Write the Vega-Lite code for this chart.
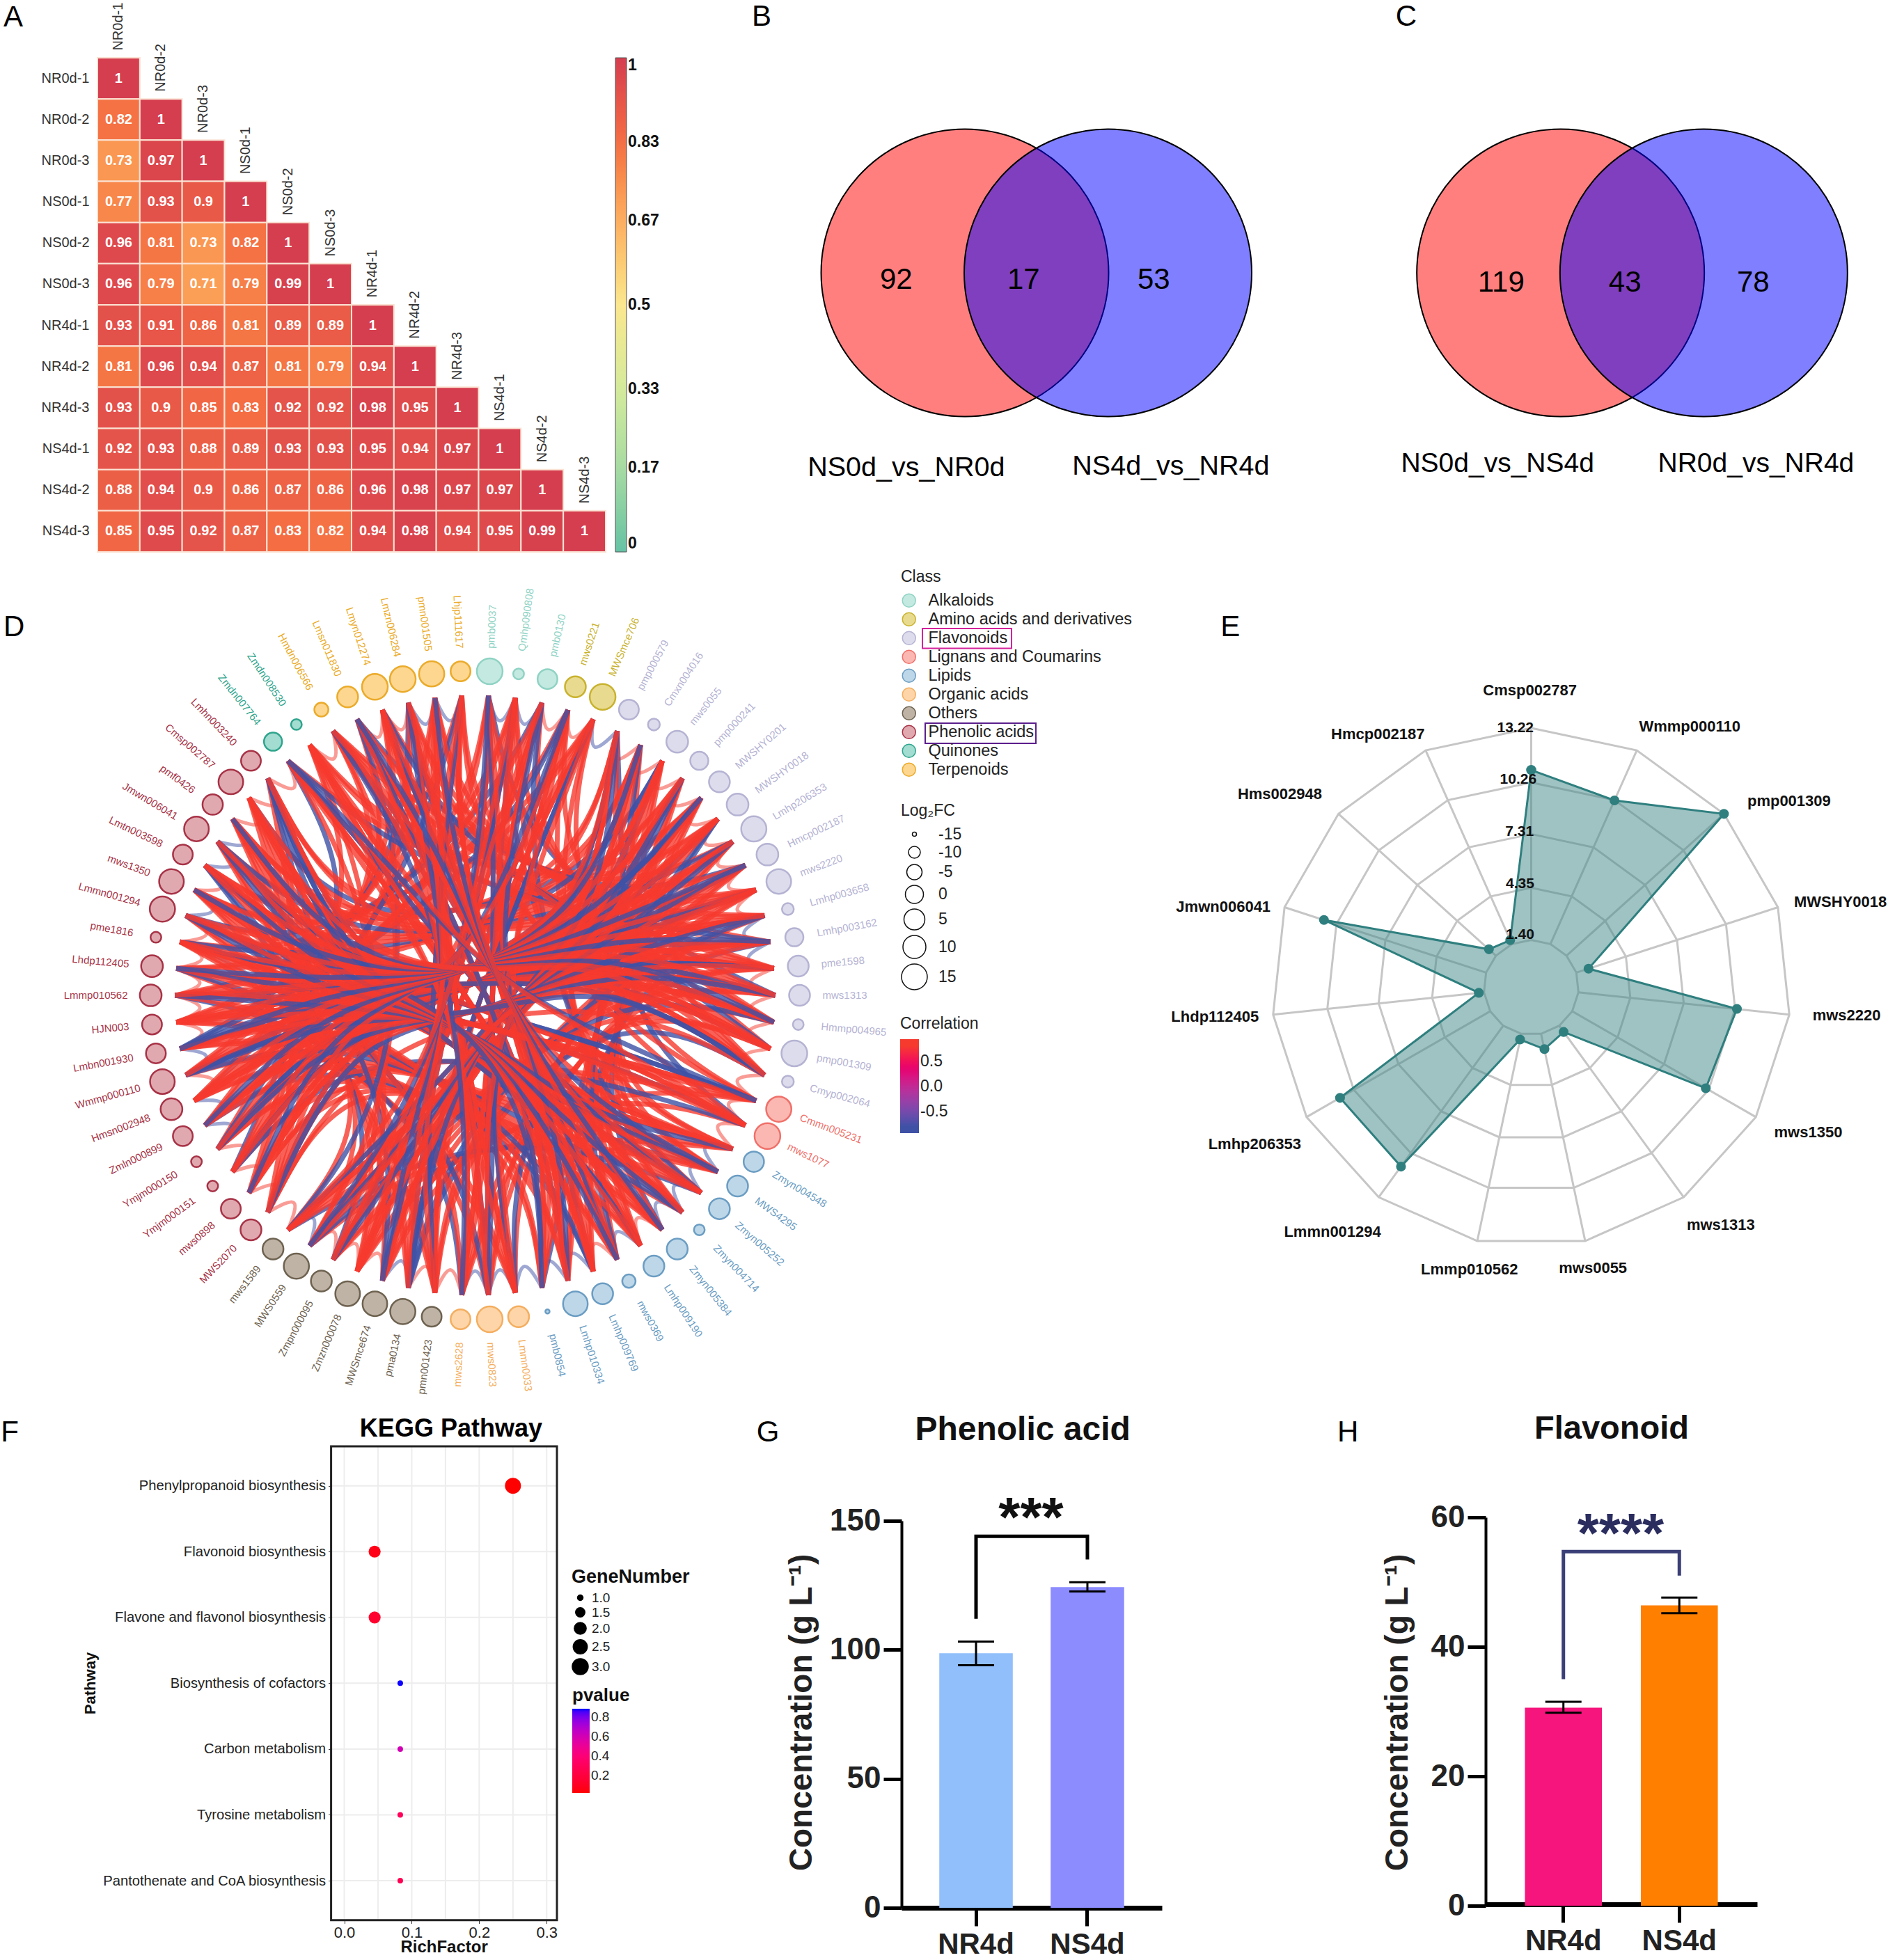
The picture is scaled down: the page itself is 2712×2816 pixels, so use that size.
{"$schema":"https://vega.github.io/schema/vega-lite/v6.json","padding":0,"background":"white","width":2712,"height":2816,
"config":{"font":"Liberation Sans","view":{"stroke":null},"axis":{"labelFlush":false}},
"resolve":{"scale":{"x":"independent","y":"independent","fill":"independent","stroke":"independent","size":"independent"},"axis":{"x":"independent","y":"independent"},"legend":{"fill":"independent","stroke":"independent","size":"independent"}},
"datasets":{
"nodes":[
{"k":0,"n":"pmb0037","c":"Alkaloids","fc":15,"x":0.045,"y":0.999,"a":-87.4},{"k":1,"n":"Qmhp090808","c":"Alkaloids","fc":-11,"x":0.134,"y":0.991,"a":-82.3},{"k":2,"n":"pmb0130","c":"Alkaloids","fc":3,"x":0.223,"y":0.975,"a":-77.1},{"k":3,"n":"mws0221","c":"Amino acids and derivatives","fc":5,"x":0.309,"y":0.951,"a":-72},{"k":4,"n":"MWSmce706","c":"Amino acids and derivatives","fc":15,"x":0.393,"y":0.92,"a":-66.9},
{"k":5,"n":"pmp000579","c":"Flavonoids","fc":3,"x":0.474,"y":0.881,"a":-61.7},{"k":6,"n":"Cmxn004016","c":"Flavonoids","fc":-10,"x":0.551,"y":0.835,"a":-56.6},{"k":7,"n":"mws0055","c":"Flavonoids","fc":7,"x":0.623,"y":0.782,"a":-51.4},{"k":8,"n":"pmp000241","c":"Flavonoids","fc":0,"x":0.691,"y":0.723,"a":-46.3},{"k":9,"n":"MWSHY0201","c":"Flavonoids","fc":5,"x":0.753,"y":0.658,"a":-41.1},{"k":10,"n":"MWSHY0018","c":"Flavonoids","fc":7,"x":0.809,"y":0.588,"a":-36},{"k":11,"n":"Lmhp206353","c":"Flavonoids","fc":14,"x":0.859,"y":0.513,"a":-30.9},{"k":12,"n":"Hmcp002187","c":"Flavonoids","fc":7,"x":0.901,"y":0.434,"a":-25.7},{"k":13,"n":"mws2220","c":"Flavonoids","fc":13,"x":0.936,"y":0.351,"a":-20.6},{"k":14,"n":"Lmhp003658","c":"Flavonoids","fc":-10,"x":0.964,"y":0.266,"a":-15.4},{"k":15,"n":"Lmhp003162","c":"Flavonoids","fc":0,"x":0.984,"y":0.179,"a":-10.3},{"k":16,"n":"pme1598","c":"Flavonoids","fc":5,"x":0.996,"y":0.09,"a":-5.1},{"k":17,"n":"mws1313","c":"Flavonoids","fc":5,"x":1,"y":0,"a":0},{"k":18,"n":"Hmmp004965","c":"Flavonoids","fc":-11,"x":0.996,"y":-0.09,"a":5.1},{"k":19,"n":"pmp001309","c":"Flavonoids","fc":15,"x":0.984,"y":-0.179,"a":10.3},{"k":20,"n":"Cmyp002064","c":"Flavonoids","fc":-10,"x":0.964,"y":-0.266,"a":15.4},
{"k":21,"n":"Cmmn005231","c":"Lignans and Coumarins","fc":14,"x":0.936,"y":-0.351,"a":20.6},{"k":22,"n":"mws1077","c":"Lignans and Coumarins","fc":15,"x":0.901,"y":-0.434,"a":25.7},
{"k":23,"n":"Zmyn004548","c":"Lipids","fc":4,"x":0.859,"y":-0.513,"a":30.9},{"k":24,"n":"MWS4295","c":"Lipids","fc":5,"x":0.809,"y":-0.588,"a":36},{"k":25,"n":"Zmyn005252","c":"Lipids","fc":5,"x":0.753,"y":-0.658,"a":41.1},{"k":26,"n":"Zmyn004714","c":"Lipids","fc":-11,"x":0.691,"y":-0.723,"a":46.3},{"k":27,"n":"Zmyn005384","c":"Lipids","fc":5,"x":0.623,"y":-0.782,"a":51.4},{"k":28,"n":"Lmhp009190","c":"Lipids","fc":5,"x":0.551,"y":-0.835,"a":56.6},{"k":29,"n":"mws0369","c":"Lipids","fc":-8,"x":0.474,"y":-0.881,"a":61.7},{"k":30,"n":"Lmhp009769","c":"Lipids","fc":5,"x":0.393,"y":-0.92,"a":66.9},{"k":31,"n":"Lmhp010334","c":"Lipids","fc":13,"x":0.309,"y":-0.951,"a":72},{"k":32,"n":"pmb0854","c":"Lipids","fc":-15,"x":0.223,"y":-0.975,"a":77.1},
{"k":33,"n":"Lmmn0033","c":"Organic acids","fc":5,"x":0.134,"y":-0.991,"a":82.3},{"k":34,"n":"mws0823","c":"Organic acids","fc":15,"x":0.045,"y":-0.999,"a":87.4},{"k":35,"n":"mws2628","c":"Organic acids","fc":3,"x":-0.045,"y":-0.999,"a":-87.4},
{"k":36,"n":"pmn001423","c":"Others","fc":3,"x":-0.134,"y":-0.991,"a":-82.3},{"k":37,"n":"pma0134","c":"Others","fc":14,"x":-0.223,"y":-0.975,"a":-77.1},{"k":38,"n":"MWSmce674","c":"Others","fc":13,"x":-0.309,"y":-0.951,"a":-72},{"k":39,"n":"Zmzn000078","c":"Others","fc":13,"x":-0.393,"y":-0.92,"a":-66.9},{"k":40,"n":"Zmpn000095","c":"Others","fc":5,"x":-0.474,"y":-0.881,"a":-61.7},{"k":41,"n":"MWS0559","c":"Others","fc":14,"x":-0.551,"y":-0.835,"a":-56.6},{"k":42,"n":"mws1589","c":"Others","fc":5,"x":-0.623,"y":-0.782,"a":-51.4},
{"k":43,"n":"MWS2070","c":"Phenolic acids","fc":5,"x":-0.691,"y":-0.723,"a":-46.3},{"k":44,"n":"mws0898","c":"Phenolic acids","fc":3,"x":-0.753,"y":-0.658,"a":-41.1},{"k":45,"n":"Ymjm000151","c":"Phenolic acids","fc":-11,"x":-0.809,"y":-0.588,"a":-36},{"k":46,"n":"Ymjm000150","c":"Phenolic acids","fc":-11,"x":-0.859,"y":-0.513,"a":-30.9},{"k":47,"n":"Zmln000899","c":"Phenolic acids","fc":3,"x":-0.901,"y":-0.434,"a":-25.7},{"k":48,"n":"Hmsn002948","c":"Phenolic acids","fc":7,"x":-0.936,"y":-0.351,"a":-20.6},{"k":49,"n":"Wmmp000110","c":"Phenolic acids","fc":13,"x":-0.964,"y":-0.266,"a":-15.4},{"k":50,"n":"Lmbn001930","c":"Phenolic acids","fc":3,"x":-0.984,"y":-0.179,"a":-10.3},{"k":51,"n":"HJN003","c":"Phenolic acids","fc":3,"x":-0.996,"y":-0.09,"a":-5.1},{"k":52,"n":"Lmmp010562","c":"Phenolic acids","fc":7,"x":-1,"y":0,"a":0},{"k":53,"n":"Lhdp112405","c":"Phenolic acids","fc":7,"x":-0.996,"y":0.09,"a":5.1},{"k":54,"n":"pme1816","c":"Phenolic acids","fc":-11,"x":-0.984,"y":0.179,"a":10.3},{"k":55,"n":"Lmmn001294","c":"Phenolic acids","fc":14,"x":-0.964,"y":0.266,"a":15.4},{"k":56,"n":"mws1350","c":"Phenolic acids","fc":13,"x":-0.936,"y":0.351,"a":20.6},{"k":57,"n":"Lmtn003598","c":"Phenolic acids","fc":3,"x":-0.901,"y":0.434,"a":25.7},{"k":58,"n":"Jmwn006041","c":"Phenolic acids","fc":13,"x":-0.859,"y":0.513,"a":30.9},{"k":59,"n":"pmf0426","c":"Phenolic acids","fc":4,"x":-0.809,"y":0.588,"a":36},{"k":60,"n":"Cmsp002787","c":"Phenolic acids","fc":13,"x":-0.753,"y":0.658,"a":41.1},{"k":61,"n":"Lmhn003240","c":"Phenolic acids","fc":3,"x":-0.691,"y":0.723,"a":46.3},
{"k":62,"n":"Zmdn007764","c":"Quinones","fc":0,"x":-0.623,"y":0.782,"a":51.4},{"k":63,"n":"Zmdn008530","c":"Quinones","fc":-11,"x":-0.551,"y":0.835,"a":56.6},
{"k":64,"n":"Hmdn006566","c":"Terpenoids","fc":-7,"x":-0.474,"y":0.881,"a":61.7},{"k":65,"n":"Lmsn011830","c":"Terpenoids","fc":5,"x":-0.393,"y":0.92,"a":66.9},{"k":66,"n":"Lmyn012274","c":"Terpenoids","fc":15,"x":-0.309,"y":0.951,"a":72},{"k":67,"n":"Lmzn006284","c":"Terpenoids","fc":15,"x":-0.223,"y":0.975,"a":77.1},{"k":68,"n":"pmn001505","c":"Terpenoids","fc":14,"x":-0.134,"y":0.991,"a":82.3},{"k":69,"n":"Lhjp111617","c":"Terpenoids","fc":3,"x":-0.045,"y":0.999,"a":87.4}],
"anchors":[
{"k":0,"x":0.041,"y":0.924},{"k":1,"x":0.124,"y":0.917},{"k":2,"x":0.206,"y":0.902},{"k":3,"x":0.286,"y":0.88},{"k":4,"x":0.364,"y":0.851},{"k":5,"x":0.438,"y":0.815},{"k":6,"x":0.51,"y":0.772},{"k":7,"x":0.577,"y":0.723},{"k":8,"x":0.639,"y":0.669},{"k":9,"x":0.697,"y":0.609},{"k":10,"x":0.748,"y":0.544},{"k":11,"x":0.794,"y":0.474},{"k":12,"x":0.833,"y":0.401},{"k":13,"x":0.866,"y":0.325},{"k":14,"x":0.892,"y":0.246},{"k":15,"x":0.91,"y":0.165},{"k":16,"x":0.921,"y":0.083},{"k":17,"x":0.925,"y":0},
{"k":18,"x":0.921,"y":-0.083},{"k":19,"x":0.91,"y":-0.165},{"k":20,"x":0.892,"y":-0.246},{"k":21,"x":0.866,"y":-0.325},{"k":22,"x":0.833,"y":-0.401},{"k":23,"x":0.794,"y":-0.474},{"k":24,"x":0.748,"y":-0.544},{"k":25,"x":0.697,"y":-0.609},{"k":26,"x":0.639,"y":-0.669},{"k":27,"x":0.577,"y":-0.723},{"k":28,"x":0.51,"y":-0.772},{"k":29,"x":0.438,"y":-0.815},{"k":30,"x":0.364,"y":-0.851},{"k":31,"x":0.286,"y":-0.88},{"k":32,"x":0.206,"y":-0.902},{"k":33,"x":0.124,"y":-0.917},{"k":34,"x":0.041,"y":-0.924},
{"k":35,"x":-0.041,"y":-0.924},{"k":36,"x":-0.124,"y":-0.917},{"k":37,"x":-0.206,"y":-0.902},{"k":38,"x":-0.286,"y":-0.88},{"k":39,"x":-0.364,"y":-0.851},{"k":40,"x":-0.438,"y":-0.815},{"k":41,"x":-0.51,"y":-0.772},{"k":42,"x":-0.577,"y":-0.723},{"k":43,"x":-0.639,"y":-0.669},{"k":44,"x":-0.697,"y":-0.609},{"k":45,"x":-0.748,"y":-0.544},{"k":46,"x":-0.794,"y":-0.474},{"k":47,"x":-0.833,"y":-0.401},{"k":48,"x":-0.866,"y":-0.325},{"k":49,"x":-0.892,"y":-0.246},{"k":50,"x":-0.91,"y":-0.165},{"k":51,"x":-0.921,"y":-0.083},{"k":52,"x":-0.925,"y":0},
{"k":53,"x":-0.921,"y":0.083},{"k":54,"x":-0.91,"y":0.165},{"k":55,"x":-0.892,"y":0.246},{"k":56,"x":-0.866,"y":0.325},{"k":57,"x":-0.833,"y":0.401},{"k":58,"x":-0.794,"y":0.474},{"k":59,"x":-0.748,"y":0.544},{"k":60,"x":-0.697,"y":0.609},{"k":61,"x":-0.639,"y":0.669},{"k":62,"x":-0.577,"y":0.723},{"k":63,"x":-0.51,"y":0.772},{"k":64,"x":-0.438,"y":0.815},{"k":65,"x":-0.364,"y":0.851},{"k":66,"x":-0.286,"y":0.88},{"k":67,"x":-0.206,"y":0.902},{"k":68,"x":-0.124,"y":0.917},{"k":69,"x":-0.041,"y":0.924},
{"k":100,"x":0.06,"y":0.446},{"k":101,"x":0.158,"y":0.421},{"k":102,"x":0.414,"y":0.177},{"k":103,"x":0.414,"y":-0.177},{"k":104,"x":0.265,"y":-0.364},{"k":105,"x":0.02,"y":-0.45},{"k":106,"x":-0.177,"y":-0.414},{"k":107,"x":-0.45,"y":0},{"k":108,"x":-0.265,"y":0.364},{"k":109,"x":-0.12,"y":0.434},{"k":110,"x":0,"y":0},
{"k":201,"x":0.072,"y":0.797},{"k":202,"x":0.143,"y":0.787},{"k":203,"x":0.213,"y":0.771},{"k":204,"x":0.281,"y":0.749},{"k":205,"x":0.347,"y":0.721},{"k":206,"x":0.41,"y":0.687},{"k":207,"x":0.47,"y":0.647},{"k":208,"x":0.526,"y":0.602},{"k":209,"x":0.578,"y":0.553},{"k":210,"x":0.625,"y":0.499},{"k":211,"x":0.668,"y":0.441},{"k":212,"x":0.705,"y":0.379},{"k":213,"x":0.736,"y":0.314},{"k":214,"x":0.761,"y":0.247},{"k":215,"x":0.78,"y":0.178},{"k":216,"x":0.793,"y":0.107},{"k":217,"x":0.799,"y":0.036},
{"k":218,"x":0.799,"y":-0.036},{"k":219,"x":0.793,"y":-0.107},{"k":220,"x":0.78,"y":-0.178},{"k":221,"x":0.761,"y":-0.247},{"k":222,"x":0.736,"y":-0.314},{"k":223,"x":0.705,"y":-0.379},{"k":224,"x":0.668,"y":-0.441},{"k":225,"x":0.625,"y":-0.499},{"k":226,"x":0.578,"y":-0.553},{"k":227,"x":0.526,"y":-0.602},{"k":228,"x":0.47,"y":-0.647},{"k":229,"x":0.41,"y":-0.687},{"k":230,"x":0.347,"y":-0.721},{"k":231,"x":0.281,"y":-0.749},{"k":232,"x":0.213,"y":-0.771},{"k":233,"x":0.143,"y":-0.787},{"k":234,"x":0.072,"y":-0.797},{"k":235,"x":0,"y":-0.8},
{"k":236,"x":-0.072,"y":-0.797},{"k":237,"x":-0.143,"y":-0.787},{"k":238,"x":-0.213,"y":-0.771},{"k":239,"x":-0.281,"y":-0.749},{"k":240,"x":-0.347,"y":-0.721},{"k":241,"x":-0.41,"y":-0.687},{"k":242,"x":-0.47,"y":-0.647},{"k":243,"x":-0.526,"y":-0.602},{"k":244,"x":-0.578,"y":-0.553},{"k":245,"x":-0.625,"y":-0.499},{"k":246,"x":-0.668,"y":-0.441},{"k":247,"x":-0.705,"y":-0.379},{"k":248,"x":-0.736,"y":-0.314},{"k":249,"x":-0.761,"y":-0.247},{"k":250,"x":-0.78,"y":-0.178},{"k":251,"x":-0.793,"y":-0.107},{"k":252,"x":-0.799,"y":-0.036},
{"k":253,"x":-0.799,"y":0.036},{"k":254,"x":-0.793,"y":0.107},{"k":255,"x":-0.78,"y":0.178},{"k":256,"x":-0.761,"y":0.247},{"k":257,"x":-0.736,"y":0.314},{"k":258,"x":-0.705,"y":0.379},{"k":259,"x":-0.668,"y":0.441},{"k":260,"x":-0.625,"y":0.499},{"k":261,"x":-0.578,"y":0.553},{"k":262,"x":-0.526,"y":0.602},{"k":263,"x":-0.47,"y":0.647},{"k":264,"x":-0.41,"y":0.687},{"k":265,"x":-0.347,"y":0.721},{"k":266,"x":-0.281,"y":0.749},{"k":267,"x":-0.213,"y":0.771},{"k":268,"x":-0.143,"y":0.787},{"k":269,"x":-0.072,"y":0.797}],
"arcs":[
{"r":-0.8,"p":[0,201,1]},{"r":-0.8,"p":[1,202,2]},{"r":0.8,"p":[2,203,3]},{"r":0.8,"p":[3,204,4]},{"r":-0.8,"p":[4,205,5]},{"r":0.8,"p":[5,206,6]},{"r":0.8,"p":[6,207,7]},{"r":0.8,"p":[7,208,8]},{"r":0.8,"p":[8,209,9]},{"r":0.8,"p":[9,210,10]},{"r":0.8,"p":[10,211,11]},{"r":0.8,"p":[11,212,12]},{"r":0.8,"p":[12,213,13]},{"r":0.8,"p":[13,214,14]},{"r":-0.8,"p":[14,215,15]},{"r":-0.8,"p":[15,216,16]},{"r":0.8,"p":[16,217,17]},{"r":0.8,"p":[17,218,18]},{"r":0.8,"p":[18,219,19]},{"r":0.8,"p":[19,220,20]},{"r":0.8,"p":[20,221,21]},{"r":0.8,"p":[21,222,22]},{"r":0.8,"p":[22,223,23]},{"r":-0.8,"p":[23,224,24]},{"r":-0.8,"p":[24,225,25]},{"r":-0.8,"p":[25,226,26]},{"r":-0.8,"p":[26,227,27]},{"r":0.8,"p":[27,228,28]},{"r":-0.8,"p":[28,229,29]},{"r":0.8,"p":[29,230,30]},{"r":-0.8,"p":[30,231,31]},{"r":-0.8,"p":[31,232,32]},{"r":-0.8,"p":[32,233,33]},{"r":-0.8,"p":[33,234,34]},{"r":-0.8,"p":[34,235,35]},{"r":0.8,"p":[35,236,36]},{"r":0.8,"p":[36,237,37]},{"r":-0.8,"p":[37,238,38]},{"r":0.8,"p":[38,239,39]},{"r":0.8,"p":[39,240,40]},{"r":0.8,"p":[40,241,41]},{"r":-0.8,"p":[41,242,42]},{"r":0.8,"p":[42,243,43]},{"r":0.8,"p":[43,244,44]},{"r":0.8,"p":[44,245,45]},{"r":0.8,"p":[45,246,46]},{"r":-0.8,"p":[46,247,47]},{"r":-0.8,"p":[47,248,48]},{"r":0.8,"p":[48,249,49]},{"r":-0.8,"p":[49,250,50]},{"r":0.8,"p":[50,251,51]},{"r":0.8,"p":[51,252,52]},{"r":0.8,"p":[52,253,53]},{"r":0.8,"p":[53,254,54]},{"r":0.8,"p":[54,255,55]},{"r":-0.8,"p":[55,256,56]},{"r":0.8,"p":[56,257,57]},{"r":-0.8,"p":[57,258,58]},{"r":-0.8,"p":[58,259,59]},{"r":0.8,"p":[59,260,60]},{"r":0.8,"p":[60,261,61]},{"r":0.8,"p":[61,262,62]},{"r":0.8,"p":[63,264,64]},{"r":0.8,"p":[65,266,66]},{"r":0.8,"p":[66,267,67]},{"r":-0.8,"p":[67,268,68]},{"r":-0.8,"p":[68,269,69]},{"r":-0.8,"p":[5,102,9]},{"r":0.8,"p":[8,102,12]},{"r":0.8,"p":[11,102,15]},{"r":-0.8,"p":[14,102,18]},{"r":0.8,"p":[6,102,13]},{"r":0.8,"p":[44,107,50]},{"r":-0.8,"p":[48,107,54]},{"r":0.8,"p":[52,107,58]},{"r":0.8,"p":[55,107,61]},{"r":-0.8,"p":[24,104,29]},{"r":0.8,"p":[26,104,31]},{"r":-0.8,"p":[36,106,41]},{"r":0.8,"p":[64,109,68]}],
"links":[
{"r":-0.8,"p":[0,100,102,17]},{"r":0.8,"p":[1,100,102,18]},{"r":0.8,"p":[2,100,102,19]},{"r":0.8,"p":[3,101,102,20]},{"r":0.8,"p":[4,101,103,21]},{"r":-0.8,"p":[5,102,103,22]},{"r":0.8,"p":[6,102,104,23]},{"r":0.8,"p":[7,102,104,24]},{"r":0.8,"p":[8,102,104,25]},{"r":0.8,"p":[9,102,104,26]},{"r":-0.8,"p":[10,102,104,27]},{"r":0.8,"p":[11,102,104,28]},{"r":0.8,"p":[12,102,104,29]},{"r":0.8,"p":[13,102,104,30]},{"r":0.8,"p":[14,102,104,31]},{"r":-0.8,"p":[15,102,104,32]},{"r":0.8,"p":[16,102,105,33]},{"r":0.8,"p":[17,102,105,34]},{"r":0.8,"p":[18,102,105,35]},{"r":0.8,"p":[19,102,106,36]},{"r":-0.8,"p":[20,102,106,37]},{"r":0.8,"p":[21,103,106,38]},{"r":0.8,"p":[22,103,106,39]},{"r":0.8,"p":[23,104,106,40]},{"r":0.8,"p":[24,104,106,41]},{"r":-0.8,"p":[25,104,106,42]},{"r":0.8,"p":[26,104,107,43]},{"r":0.8,"p":[27,104,107,44]},{"r":0.8,"p":[28,104,107,45]},{"r":0.8,"p":[29,104,107,46]},{"r":-0.8,"p":[30,104,107,47]},{"r":0.8,"p":[31,104,107,48]},{"r":0.8,"p":[32,104,107,49]},{"r":0.8,"p":[33,105,107,50]},{"r":0.8,"p":[34,105,107,51]},{"r":-0.8,"p":[35,105,107,52]},{"r":0.8,"p":[36,106,107,53]},{"r":0.8,"p":[37,106,107,54]},{"r":0.8,"p":[38,106,107,55]},{"r":0.8,"p":[39,106,107,56]},{"r":-0.8,"p":[40,106,107,57]},{"r":0.8,"p":[41,106,107,58]},{"r":0.8,"p":[42,106,107,59]},{"r":0.8,"p":[43,107,60]},{"r":0.8,"p":[44,107,61]},{"r":-0.8,"p":[45,107,108,62]},{"r":0.8,"p":[46,107,108,63]},{"r":0.8,"p":[47,107,109,64]},{"r":0.8,"p":[48,107,109,65]},{"r":0.8,"p":[49,107,109,66]},{"r":-0.8,"p":[50,107,109,67]},{"r":0.8,"p":[51,107,109,68]},{"r":0.8,"p":[52,107,109,69]},{"r":0.8,"p":[53,107,100,0]},{"r":0.8,"p":[54,107,100,1]},{"r":-0.8,"p":[55,107,100,2]},{"r":0.8,"p":[56,107,101,3]},{"r":0.8,"p":[57,107,101,4]},{"r":0.8,"p":[58,107,102,5]},{"r":0.8,"p":[59,107,102,6]},{"r":-0.8,"p":[60,107,102,7]},{"r":0.8,"p":[61,107,102,8]},{"r":0.8,"p":[62,108,102,9]},{"r":0.8,"p":[63,108,102,10]},{"r":0.8,"p":[64,109,102,11]},{"r":-0.8,"p":[65,109,102,12]},{"r":0.8,"p":[66,109,102,13]},{"r":0.8,"p":[67,109,102,14]},{"r":0.8,"p":[68,109,102,15]},{"r":0.8,"p":[69,109,102,16]},
{"r":0.8,"p":[0,100,104,23]},{"r":0.8,"p":[1,100,104,24]},{"r":-0.8,"p":[2,100,104,25]},{"r":0.8,"p":[3,101,104,26]},{"r":0.8,"p":[4,101,104,27]},{"r":0.8,"p":[5,102,104,28]},{"r":-0.8,"p":[6,102,104,29]},{"r":0.8,"p":[7,102,104,30]},{"r":0.8,"p":[8,102,104,31]},{"r":0.8,"p":[9,102,104,32]},{"r":-0.8,"p":[10,102,105,33]},{"r":0.8,"p":[11,102,105,34]},{"r":0.8,"p":[12,102,105,35]},{"r":0.8,"p":[13,102,106,36]},{"r":-0.8,"p":[14,102,106,37]},{"r":0.8,"p":[15,102,106,38]},{"r":0.8,"p":[16,102,106,39]},{"r":0.8,"p":[17,102,106,40]},{"r":-0.8,"p":[18,102,106,41]},{"r":0.8,"p":[19,102,106,42]},{"r":0.8,"p":[20,102,107,43]},{"r":0.8,"p":[21,103,107,44]},{"r":-0.8,"p":[22,103,107,45]},{"r":0.8,"p":[23,104,107,46]},{"r":0.8,"p":[24,104,107,47]},{"r":0.8,"p":[25,104,107,48]},{"r":-0.8,"p":[26,104,107,49]},{"r":0.8,"p":[27,104,107,50]},{"r":0.8,"p":[28,104,107,51]},{"r":0.8,"p":[29,104,107,52]},{"r":-0.8,"p":[30,104,107,53]},{"r":0.8,"p":[31,104,107,54]},{"r":0.8,"p":[32,104,107,55]},{"r":0.8,"p":[33,105,107,56]},{"r":-0.8,"p":[34,105,107,57]},{"r":0.8,"p":[35,105,107,58]},{"r":0.8,"p":[36,106,107,59]},{"r":0.8,"p":[37,106,107,60]},{"r":-0.8,"p":[38,106,107,61]},{"r":0.8,"p":[39,106,108,62]},{"r":0.8,"p":[40,106,108,63]},{"r":0.8,"p":[41,106,109,64]},{"r":-0.8,"p":[42,106,109,65]},{"r":0.8,"p":[43,107,109,66]},{"r":0.8,"p":[44,107,109,67]},{"r":0.8,"p":[45,107,109,68]},{"r":-0.8,"p":[46,107,109,69]},{"r":0.8,"p":[47,107,100,0]},{"r":0.8,"p":[48,107,100,1]},{"r":0.8,"p":[49,107,100,2]},{"r":-0.8,"p":[50,107,101,3]},{"r":0.8,"p":[51,107,101,4]},{"r":0.8,"p":[52,107,102,5]},{"r":0.8,"p":[53,107,102,6]},{"r":-0.8,"p":[54,107,102,7]},{"r":0.8,"p":[55,107,102,8]},{"r":0.8,"p":[56,107,102,9]},{"r":0.8,"p":[57,107,102,10]},{"r":-0.8,"p":[58,107,102,11]},{"r":0.8,"p":[59,107,102,12]},{"r":0.8,"p":[60,107,102,13]},{"r":0.8,"p":[61,107,102,14]},{"r":-0.8,"p":[62,108,102,15]},{"r":0.8,"p":[63,108,102,16]},{"r":0.8,"p":[64,109,102,17]},{"r":0.8,"p":[65,109,102,18]},{"r":-0.8,"p":[66,109,102,19]},{"r":0.8,"p":[67,109,102,20]},{"r":0.8,"p":[68,109,103,21]},{"r":0.8,"p":[69,109,103,22]},
{"r":0.8,"p":[0,100,105,33]},{"r":-0.8,"p":[1,100,105,34]},{"r":0.8,"p":[2,100,105,35]},{"r":0.8,"p":[3,101,106,36]},{"r":-0.8,"p":[4,101,106,37]},{"r":0.8,"p":[5,102,106,38]},{"r":0.8,"p":[6,102,106,39]},{"r":-0.8,"p":[7,102,106,40]},{"r":0.8,"p":[8,102,106,41]},{"r":0.8,"p":[9,102,106,42]},{"r":-0.8,"p":[10,102,107,43]},{"r":0.8,"p":[11,102,107,44]},{"r":0.8,"p":[12,102,107,45]},{"r":-0.8,"p":[13,102,107,46]},{"r":0.8,"p":[14,102,107,47]},{"r":0.8,"p":[15,102,107,48]},{"r":-0.8,"p":[16,102,107,49]},{"r":0.8,"p":[17,102,107,50]},{"r":0.8,"p":[18,102,107,51]},{"r":-0.8,"p":[19,102,107,52]},{"r":0.8,"p":[20,102,107,53]},{"r":0.8,"p":[21,103,107,54]},{"r":-0.8,"p":[22,103,107,55]},{"r":0.8,"p":[23,104,107,56]},{"r":0.8,"p":[24,104,107,57]},{"r":-0.8,"p":[25,104,107,58]},{"r":0.8,"p":[26,104,107,59]},{"r":0.8,"p":[27,104,107,60]},{"r":-0.8,"p":[28,104,107,61]},{"r":0.8,"p":[29,104,108,62]},{"r":0.8,"p":[30,104,108,63]},{"r":-0.8,"p":[31,104,109,64]},{"r":0.8,"p":[32,104,109,65]},{"r":0.8,"p":[33,105,109,66]},{"r":-0.8,"p":[34,105,109,67]},{"r":0.8,"p":[35,105,109,68]},{"r":0.8,"p":[36,106,109,69]},{"r":-0.8,"p":[37,106,100,0]},{"r":0.8,"p":[38,106,100,1]},{"r":0.8,"p":[39,106,100,2]},{"r":-0.8,"p":[40,106,101,3]},{"r":0.8,"p":[41,106,101,4]},{"r":0.8,"p":[42,106,102,5]},{"r":-0.8,"p":[43,107,102,6]},{"r":0.8,"p":[44,107,102,7]},{"r":0.8,"p":[45,107,102,8]},{"r":-0.8,"p":[46,107,102,9]},{"r":0.8,"p":[47,107,102,10]},{"r":0.8,"p":[48,107,102,11]},{"r":-0.8,"p":[49,107,102,12]},{"r":0.8,"p":[50,107,102,13]},{"r":0.8,"p":[51,107,102,14]},{"r":-0.8,"p":[52,107,102,15]},{"r":0.8,"p":[53,107,102,16]},{"r":0.8,"p":[54,107,102,17]},{"r":-0.8,"p":[55,107,102,18]},{"r":0.8,"p":[56,107,102,19]},{"r":0.8,"p":[57,107,102,20]},{"r":-0.8,"p":[58,107,103,21]},{"r":0.8,"p":[59,107,103,22]},{"r":0.8,"p":[60,107,104,23]},{"r":-0.8,"p":[61,107,104,24]},{"r":0.8,"p":[62,108,104,25]},{"r":0.8,"p":[63,108,104,26]},{"r":-0.8,"p":[64,109,104,27]},{"r":0.8,"p":[65,109,104,28]},{"r":0.8,"p":[66,109,104,29]},{"r":-0.8,"p":[67,109,104,30]},{"r":0.8,"p":[68,109,104,31]},{"r":0.8,"p":[69,109,104,32]},
{"r":0.8,"p":[0,100,106,37]},{"r":-0.8,"p":[1,100,106,38]},{"r":0.8,"p":[2,100,106,39]},{"r":0.8,"p":[3,101,106,40]},{"r":0.8,"p":[4,101,106,41]},{"r":-0.8,"p":[5,102,106,42]},{"r":0.8,"p":[6,102,107,43]},{"r":0.8,"p":[7,102,107,44]},{"r":0.8,"p":[8,102,107,45]},{"r":-0.8,"p":[9,102,107,46]},{"r":0.8,"p":[10,102,107,47]},{"r":0.8,"p":[11,102,107,48]},{"r":0.8,"p":[12,102,107,49]},{"r":-0.8,"p":[13,102,107,50]},{"r":0.8,"p":[14,102,107,51]},{"r":0.8,"p":[15,102,107,52]},{"r":0.8,"p":[16,102,107,53]},{"r":-0.8,"p":[17,102,107,54]},{"r":0.8,"p":[18,102,107,55]},{"r":0.8,"p":[19,102,107,56]},{"r":0.8,"p":[20,102,107,57]},{"r":-0.8,"p":[21,103,107,58]},{"r":0.8,"p":[22,103,107,59]},{"r":0.8,"p":[23,104,107,60]},{"r":0.8,"p":[24,104,107,61]},{"r":-0.8,"p":[25,104,108,62]},{"r":0.8,"p":[26,104,108,63]},{"r":0.8,"p":[27,104,109,64]},{"r":0.8,"p":[28,104,109,65]},{"r":-0.8,"p":[29,104,109,66]},{"r":0.8,"p":[30,104,109,67]},{"r":0.8,"p":[31,104,109,68]},{"r":0.8,"p":[32,104,109,69]},{"r":-0.8,"p":[33,105,100,0]},{"r":0.8,"p":[34,105,100,1]},{"r":0.8,"p":[35,105,100,2]},{"r":0.8,"p":[36,106,101,3]},{"r":-0.8,"p":[37,106,101,4]},{"r":0.8,"p":[38,106,102,5]},{"r":0.8,"p":[39,106,102,6]},{"r":0.8,"p":[40,106,102,7]},{"r":-0.8,"p":[41,106,102,8]},{"r":0.8,"p":[42,106,102,9]},{"r":0.8,"p":[43,107,102,10]},{"r":0.8,"p":[44,107,102,11]},{"r":-0.8,"p":[45,107,102,12]},{"r":0.8,"p":[46,107,102,13]},{"r":0.8,"p":[47,107,102,14]},{"r":0.8,"p":[48,107,102,15]},{"r":-0.8,"p":[49,107,102,16]},{"r":0.8,"p":[50,107,102,17]},{"r":0.8,"p":[51,107,102,18]},{"r":0.8,"p":[52,107,102,19]},{"r":-0.8,"p":[53,107,102,20]},{"r":0.8,"p":[54,107,103,21]},{"r":0.8,"p":[55,107,103,22]},{"r":0.8,"p":[56,107,104,23]},{"r":-0.8,"p":[57,107,104,24]},{"r":0.8,"p":[58,107,104,25]},{"r":0.8,"p":[59,107,104,26]},{"r":0.8,"p":[60,107,104,27]},{"r":-0.8,"p":[61,107,104,28]},{"r":0.8,"p":[62,108,104,29]},{"r":0.8,"p":[63,108,104,30]},{"r":0.8,"p":[64,109,104,31]},{"r":-0.8,"p":[65,109,104,32]},{"r":0.8,"p":[66,109,105,33]},{"r":0.8,"p":[67,109,105,34]},{"r":0.8,"p":[68,109,105,35]},{"r":-0.8,"p":[69,109,106,36]},
{"r":0.8,"p":[0,100,110,104,29]},{"r":0.8,"p":[1,100,110,104,30]},{"r":-0.8,"p":[2,100,110,104,31]},{"r":0.8,"p":[3,101,110,104,32]},{"r":0.8,"p":[4,101,110,105,33]},{"r":-0.8,"p":[5,102,110,105,34]},{"r":0.8,"p":[6,102,110,105,35]},{"r":0.8,"p":[7,102,110,106,36]},{"r":-0.8,"p":[8,102,110,106,37]},{"r":0.8,"p":[9,102,110,106,38]},{"r":0.8,"p":[10,102,110,106,39]},{"r":-0.8,"p":[11,102,110,106,40]},{"r":0.8,"p":[12,102,110,106,41]},{"r":0.8,"p":[13,102,110,106,42]},{"r":-0.8,"p":[14,102,110,107,43]},{"r":0.8,"p":[15,102,110,107,44]},{"r":0.8,"p":[16,102,110,107,45]},{"r":-0.8,"p":[17,102,110,107,46]},{"r":0.8,"p":[18,102,110,107,47]},{"r":0.8,"p":[19,102,110,107,48]},{"r":-0.8,"p":[20,102,110,107,49]},{"r":0.8,"p":[21,103,110,107,50]},{"r":0.8,"p":[22,103,110,107,51]},{"r":-0.8,"p":[23,104,110,107,52]},{"r":0.8,"p":[24,104,110,107,53]},{"r":0.8,"p":[25,104,110,107,54]},{"r":-0.8,"p":[26,104,110,107,55]},{"r":0.8,"p":[27,104,110,107,56]},{"r":0.8,"p":[28,104,110,107,57]},{"r":-0.8,"p":[29,104,110,107,58]},{"r":0.8,"p":[30,104,110,107,59]},{"r":0.8,"p":[31,104,110,107,60]},{"r":-0.8,"p":[32,104,110,107,61]},{"r":0.8,"p":[33,105,110,108,62]},{"r":0.8,"p":[34,105,110,108,63]},{"r":-0.8,"p":[35,105,110,109,64]},{"r":0.8,"p":[36,106,110,109,65]},{"r":0.8,"p":[37,106,110,109,66]},{"r":-0.8,"p":[38,106,110,109,67]},{"r":0.8,"p":[39,106,110,109,68]},{"r":0.8,"p":[40,106,110,109,69]},{"r":-0.8,"p":[41,106,110,100,0]},{"r":0.8,"p":[42,106,110,100,1]},{"r":0.8,"p":[43,107,110,100,2]},{"r":-0.8,"p":[44,107,110,101,3]},{"r":0.8,"p":[45,107,110,101,4]},{"r":0.8,"p":[46,107,110,102,5]},{"r":-0.8,"p":[47,107,110,102,6]},{"r":0.8,"p":[48,107,110,102,7]},{"r":0.8,"p":[49,107,110,102,8]},{"r":-0.8,"p":[50,107,110,102,9]},{"r":0.8,"p":[51,107,110,102,10]},{"r":0.8,"p":[52,107,110,102,11]},{"r":-0.8,"p":[53,107,110,102,12]},{"r":0.8,"p":[54,107,110,102,13]},{"r":0.8,"p":[55,107,110,102,14]},{"r":-0.8,"p":[56,107,110,102,15]},{"r":0.8,"p":[57,107,110,102,16]},{"r":0.8,"p":[58,107,110,102,17]},{"r":-0.8,"p":[59,107,110,102,18]},{"r":0.8,"p":[60,107,110,102,19]},{"r":0.8,"p":[61,107,110,102,20]},{"r":-0.8,"p":[62,108,110,103,21]},{"r":0.8,"p":[63,108,110,103,22]},{"r":0.8,"p":[64,109,110,104,23]},{"r":-0.8,"p":[65,109,110,104,24]},{"r":0.8,"p":[66,109,110,104,25]},{"r":0.8,"p":[67,109,110,104,26]},{"r":-0.8,"p":[68,109,110,104,27]},{"r":0.8,"p":[69,109,110,104,28]}],
"heat":[
{"r":"NR0d-1","c":"NR0d-1","v":1},
{"r":"NR0d-2","c":"NR0d-1","v":0.82},{"r":"NR0d-2","c":"NR0d-2","v":1},
{"r":"NR0d-3","c":"NR0d-1","v":0.73},{"r":"NR0d-3","c":"NR0d-2","v":0.97},{"r":"NR0d-3","c":"NR0d-3","v":1},
{"r":"NS0d-1","c":"NR0d-1","v":0.77},{"r":"NS0d-1","c":"NR0d-2","v":0.93},{"r":"NS0d-1","c":"NR0d-3","v":0.9},{"r":"NS0d-1","c":"NS0d-1","v":1},
{"r":"NS0d-2","c":"NR0d-1","v":0.96},{"r":"NS0d-2","c":"NR0d-2","v":0.81},{"r":"NS0d-2","c":"NR0d-3","v":0.73},{"r":"NS0d-2","c":"NS0d-1","v":0.82},{"r":"NS0d-2","c":"NS0d-2","v":1},
{"r":"NS0d-3","c":"NR0d-1","v":0.96},{"r":"NS0d-3","c":"NR0d-2","v":0.79},{"r":"NS0d-3","c":"NR0d-3","v":0.71},{"r":"NS0d-3","c":"NS0d-1","v":0.79},{"r":"NS0d-3","c":"NS0d-2","v":0.99},{"r":"NS0d-3","c":"NS0d-3","v":1},
{"r":"NR4d-1","c":"NR0d-1","v":0.93},{"r":"NR4d-1","c":"NR0d-2","v":0.91},{"r":"NR4d-1","c":"NR0d-3","v":0.86},{"r":"NR4d-1","c":"NS0d-1","v":0.81},{"r":"NR4d-1","c":"NS0d-2","v":0.89},{"r":"NR4d-1","c":"NS0d-3","v":0.89},{"r":"NR4d-1","c":"NR4d-1","v":1},
{"r":"NR4d-2","c":"NR0d-1","v":0.81},{"r":"NR4d-2","c":"NR0d-2","v":0.96},{"r":"NR4d-2","c":"NR0d-3","v":0.94},{"r":"NR4d-2","c":"NS0d-1","v":0.87},{"r":"NR4d-2","c":"NS0d-2","v":0.81},{"r":"NR4d-2","c":"NS0d-3","v":0.79},{"r":"NR4d-2","c":"NR4d-1","v":0.94},{"r":"NR4d-2","c":"NR4d-2","v":1},
{"r":"NR4d-3","c":"NR0d-1","v":0.93},{"r":"NR4d-3","c":"NR0d-2","v":0.9},{"r":"NR4d-3","c":"NR0d-3","v":0.85},{"r":"NR4d-3","c":"NS0d-1","v":0.83},{"r":"NR4d-3","c":"NS0d-2","v":0.92},{"r":"NR4d-3","c":"NS0d-3","v":0.92},{"r":"NR4d-3","c":"NR4d-1","v":0.98},{"r":"NR4d-3","c":"NR4d-2","v":0.95},{"r":"NR4d-3","c":"NR4d-3","v":1},
{"r":"NS4d-1","c":"NR0d-1","v":0.92},{"r":"NS4d-1","c":"NR0d-2","v":0.93},{"r":"NS4d-1","c":"NR0d-3","v":0.88},{"r":"NS4d-1","c":"NS0d-1","v":0.89},{"r":"NS4d-1","c":"NS0d-2","v":0.93},{"r":"NS4d-1","c":"NS0d-3","v":0.93},{"r":"NS4d-1","c":"NR4d-1","v":0.95},{"r":"NS4d-1","c":"NR4d-2","v":0.94},{"r":"NS4d-1","c":"NR4d-3","v":0.97},{"r":"NS4d-1","c":"NS4d-1","v":1},
{"r":"NS4d-2","c":"NR0d-1","v":0.88},{"r":"NS4d-2","c":"NR0d-2","v":0.94},{"r":"NS4d-2","c":"NR0d-3","v":0.9},{"r":"NS4d-2","c":"NS0d-1","v":0.86},{"r":"NS4d-2","c":"NS0d-2","v":0.87},{"r":"NS4d-2","c":"NS0d-3","v":0.86},{"r":"NS4d-2","c":"NR4d-1","v":0.96},{"r":"NS4d-2","c":"NR4d-2","v":0.98},{"r":"NS4d-2","c":"NR4d-3","v":0.97},{"r":"NS4d-2","c":"NS4d-1","v":0.97},{"r":"NS4d-2","c":"NS4d-2","v":1},
{"r":"NS4d-3","c":"NR0d-1","v":0.85},{"r":"NS4d-3","c":"NR0d-2","v":0.95},{"r":"NS4d-3","c":"NR0d-3","v":0.92},{"r":"NS4d-3","c":"NS0d-1","v":0.87},{"r":"NS4d-3","c":"NS0d-2","v":0.83},{"r":"NS4d-3","c":"NS0d-3","v":0.82},{"r":"NS4d-3","c":"NR4d-1","v":0.94},{"r":"NS4d-3","c":"NR4d-2","v":0.98},{"r":"NS4d-3","c":"NR4d-3","v":0.94},{"r":"NS4d-3","c":"NS4d-1","v":0.95},{"r":"NS4d-3","c":"NS4d-2","v":0.99},{"r":"NS4d-3","c":"NS4d-3","v":1}],
"rings":[
{"f":1,"o":0,"x":0,"y":1},{"f":1,"o":1,"x":0.407,"y":0.914},{"f":1,"o":2,"x":0.743,"y":0.669},{"f":1,"o":3,"x":0.951,"y":0.309},{"f":1,"o":4,"x":0.995,"y":-0.105},{"f":1,"o":5,"x":0.866,"y":-0.5},{"f":1,"o":6,"x":0.588,"y":-0.809},{"f":1,"o":7,"x":0.208,"y":-0.978},{"f":1,"o":8,"x":-0.208,"y":-0.978},{"f":1,"o":9,"x":-0.588,"y":-0.809},{"f":1,"o":10,"x":-0.866,"y":-0.5},{"f":1,"o":11,"x":-0.995,"y":-0.105},{"f":1,"o":12,"x":-0.951,"y":0.309},{"f":1,"o":13,"x":-0.743,"y":0.669},{"f":1,"o":14,"x":-0.407,"y":0.914},{"f":1,"o":15,"x":0,"y":1},
{"f":0.79,"o":0,"x":0,"y":0.79},{"f":0.79,"o":1,"x":0.321,"y":0.722},{"f":0.79,"o":2,"x":0.587,"y":0.529},{"f":0.79,"o":3,"x":0.751,"y":0.244},{"f":0.79,"o":4,"x":0.786,"y":-0.083},{"f":0.79,"o":5,"x":0.684,"y":-0.395},{"f":0.79,"o":6,"x":0.464,"y":-0.639},{"f":0.79,"o":7,"x":0.164,"y":-0.773},{"f":0.79,"o":8,"x":-0.164,"y":-0.773},{"f":0.79,"o":9,"x":-0.464,"y":-0.639},{"f":0.79,"o":10,"x":-0.684,"y":-0.395},{"f":0.79,"o":11,"x":-0.786,"y":-0.083},{"f":0.79,"o":12,"x":-0.751,"y":0.244},{"f":0.79,"o":13,"x":-0.587,"y":0.529},{"f":0.79,"o":14,"x":-0.321,"y":0.722},{"f":0.79,"o":15,"x":0,"y":0.79},
{"f":0.591,"o":0,"x":0,"y":0.591},{"f":0.591,"o":1,"x":0.24,"y":0.54},{"f":0.591,"o":2,"x":0.439,"y":0.395},{"f":0.591,"o":3,"x":0.562,"y":0.183},{"f":0.591,"o":4,"x":0.588,"y":-0.062},{"f":0.591,"o":5,"x":0.512,"y":-0.296},{"f":0.591,"o":6,"x":0.347,"y":-0.478},{"f":0.591,"o":7,"x":0.123,"y":-0.578},{"f":0.591,"o":8,"x":-0.123,"y":-0.578},{"f":0.591,"o":9,"x":-0.347,"y":-0.478},{"f":0.591,"o":10,"x":-0.512,"y":-0.296},{"f":0.591,"o":11,"x":-0.588,"y":-0.062},{"f":0.591,"o":12,"x":-0.562,"y":0.183},{"f":0.591,"o":13,"x":-0.439,"y":0.395},{"f":0.591,"o":14,"x":-0.24,"y":0.54},{"f":0.591,"o":15,"x":0,"y":0.591},
{"f":0.384,"o":0,"x":0,"y":0.384},{"f":0.384,"o":1,"x":0.156,"y":0.351},{"f":0.384,"o":2,"x":0.285,"y":0.257},{"f":0.384,"o":3,"x":0.365,"y":0.119},{"f":0.384,"o":4,"x":0.382,"y":-0.04},{"f":0.384,"o":5,"x":0.333,"y":-0.192},{"f":0.384,"o":6,"x":0.226,"y":-0.311},{"f":0.384,"o":7,"x":0.08,"y":-0.376},{"f":0.384,"o":8,"x":-0.08,"y":-0.376},{"f":0.384,"o":9,"x":-0.226,"y":-0.311},{"f":0.384,"o":10,"x":-0.333,"y":-0.192},{"f":0.384,"o":11,"x":-0.382,"y":-0.04},{"f":0.384,"o":12,"x":-0.365,"y":0.119},{"f":0.384,"o":13,"x":-0.285,"y":0.257},{"f":0.384,"o":14,"x":-0.156,"y":0.351},{"f":0.384,"o":15,"x":0,"y":0.384},
{"f":0.183,"o":0,"x":0,"y":0.183},{"f":0.183,"o":1,"x":0.074,"y":0.167},{"f":0.183,"o":2,"x":0.136,"y":0.122},{"f":0.183,"o":3,"x":0.174,"y":0.057},{"f":0.183,"o":4,"x":0.182,"y":-0.019},{"f":0.183,"o":5,"x":0.158,"y":-0.092},{"f":0.183,"o":6,"x":0.108,"y":-0.148},{"f":0.183,"o":7,"x":0.038,"y":-0.179},{"f":0.183,"o":8,"x":-0.038,"y":-0.179},{"f":0.183,"o":9,"x":-0.108,"y":-0.148},{"f":0.183,"o":10,"x":-0.158,"y":-0.092},{"f":0.183,"o":11,"x":-0.182,"y":-0.019},{"f":0.183,"o":12,"x":-0.174,"y":0.057},{"f":0.183,"o":13,"x":-0.136,"y":0.122},{"f":0.183,"o":14,"x":-0.074,"y":0.167},{"f":0.183,"o":15,"x":0,"y":0.183}],
"spokes":[
{"x":0,"y":0.183,"x2":0,"y2":1},{"x":0.074,"y":0.167,"x2":0.407,"y2":0.914},{"x":0.136,"y":0.122,"x2":0.743,"y2":0.669},{"x":0.174,"y":0.057,"x2":0.951,"y2":0.309},{"x":0.182,"y":-0.019,"x2":0.995,"y2":-0.105},{"x":0.158,"y":-0.092,"x2":0.866,"y2":-0.5},{"x":0.108,"y":-0.148,"x2":0.588,"y2":-0.809},{"x":0.038,"y":-0.179,"x2":0.208,"y2":-0.978},{"x":-0.038,"y":-0.179,"x2":-0.208,"y2":-0.978},{"x":-0.108,"y":-0.148,"x2":-0.588,"y2":-0.809},{"x":-0.158,"y":-0.092,"x2":-0.866,"y2":-0.5},{"x":-0.182,"y":-0.019,"x2":-0.995,"y2":-0.105},{"x":-0.174,"y":0.057,"x2":-0.951,"y2":0.309},{"x":-0.136,"y":0.122,"x2":-0.743,"y2":0.669},{"x":-0.074,"y":0.167,"x2":-0.407,"y2":0.914}],
"radar":[
{"m":"Cmsp002787","v":10.88,"o":0,"x":0,"y":0.838},{"m":"Wmmp000110","v":10.17,"o":1,"x":0.321,"y":0.721},{"m":"pmp001309","v":13.22,"o":2,"x":0.743,"y":0.669},{"m":"MWSHY0018","v":2.11,"o":3,"x":0.221,"y":0.072},{"m":"mws2220","v":10.3,"o":4,"x":0.793,"y":-0.083},{"m":"mws1350","v":10,"o":5,"x":0.673,"y":-0.389},{"m":"mws1313","v":1.82,"o":6,"x":0.125,"y":-0.172},{"m":"mws0055","v":2.27,"o":7,"x":0.051,"y":-0.238},{"m":"Lmmp010562","v":1.73,"o":8,"x":-0.043,"y":-0.201},{"m":"Lmmn001294","v":11.1,"o":9,"x":-0.502,"y":-0.691},{"m":"Lmhp206353","v":11.07,"o":10,"x":-0.737,"y":-0.426},{"m":"Lhdp112405","v":1.69,"o":11,"x":-0.202,"y":-0.021},{"m":"Jmwn006041","v":10.9,"o":12,"x":-0.799,"y":0.26},{"m":"Hms002948","v":1.94,"o":13,"x":-0.163,"y":0.147},{"m":"Hmcp002187","v":1.63,"o":14,"x":-0.081,"y":0.182},{"m":"Cmsp002787","v":10.88,"o":15,"x":0,"y":0.838}],
"radarLabels":[
{"t":"Cmsp002787","x":-0.005,"y":1.145},{"t":"Wmmp000110","x":0.611,"y":1.006},{"t":"pmp001309","x":0.994,"y":0.718},{"t":"MWSHY0018","x":1.192,"y":0.328},{"t":"mws2220","x":1.216,"y":-0.109},{"t":"mws1350","x":1.068,"y":-0.559},{"t":"mws1313","x":0.731,"y":-0.915},{"t":"mws0055","x":0.238,"y":-1.082},{"t":"Lmmp010562","x":-0.238,"y":-1.088},{"t":"Lmmn001294","x":-0.766,"y":-0.943},{"t":"Lmhp206353","x":-1.066,"y":-0.605},{"t":"Lhdp112405","x":-1.219,"y":-0.115},{"t":"Jmwn006041","x":-1.187,"y":0.31},{"t":"Hms002948","x":-0.969,"y":0.746},{"t":"Hmcp002187","x":-0.591,"y":0.975}],
"radarTicks":[{"t":"13.22","x":-0.061,"y":1},{"t":"10.26","x":-0.05,"y":0.801},{"t":"7.31","x":-0.045,"y":0.6},{"t":"4.35","x":-0.043,"y":0.4},{"t":"1.40","x":-0.043,"y":0.203}]
},
"layer":[
{"data":{"name":"heat"},
"encoding":{"x":{"field":"c","type":"nominal","sort":null,"scale":{"domain":["NR0d-1","NR0d-2","NR0d-3","NS0d-1","NS0d-2","NS0d-3","NR4d-1","NR4d-2","NR4d-3","NS4d-1","NS4d-2","NS4d-3"],"range":[140,870],"paddingInner":0,"paddingOuter":0},"axis":null},
"y":{"field":"r","type":"nominal","sort":null,"scale":{"domain":["NR0d-1","NR0d-2","NR0d-3","NS0d-1","NS0d-2","NS0d-3","NR4d-1","NR4d-2","NR4d-3","NS4d-1","NS4d-2","NS4d-3"],"range":[83,793],"paddingInner":0,"paddingOuter":0},"axis":{"title":null,"offset":-140,"domain":false,"ticks":false,"labelFontSize":20,"labelColor":"#333333","labelPadding":12}}},
"layer":[
{"mark":{"type":"rect","stroke":"#fbe3d4","strokeWidth":2},"encoding":{"fill":{"field":"v","type":"quantitative","scale":{"domain":[0,0.17,0.33,0.5,0.67,0.83,1],"range":["#66C2A5","#A8DBA3","#D5EA9C","#FBE78F","#FDAE61","#F46D43","#D53E4F"]},"legend":{"title":null,"orient":"none","legendX":884,"legendY":83,"gradientLength":710,"gradientThickness":16,"values":[0,0.17,0.33,0.5,0.67,0.83,1],"format":".2~f","labelFontSize":23,"labelFontWeight":"bold","labelColor":"#111111","gradientStrokeColor":"#555555","gradientStrokeWidth":1,"labelOverlap":false}}}},
{"mark":{"type":"text","color":"white","fontWeight":"bold","fontSize":20},"encoding":{"text":{"field":"v","type":"quantitative","format":".2~f"}}},
{"transform":[{"filter":"datum.r==datum.c"}],"mark":{"type":"text","angle":-90,"align":"left","baseline":"middle","dx":40,"fontSize":20,"color":"#333333"},"encoding":{"text":{"field":"r","type":"nominal"}}}
]},
{"encoding":{"x":{"field":"x","type":"quantitative","scale":{"domain":[-1,2],"range":[1180.5,1797],"nice":false,"zero":false},"axis":null},"y":{"field":"y","type":"quantitative","scale":{"domain":[-1,1],"range":[598.5,185.5],"nice":false,"zero":false},"axis":null}},
"layer":[
{"data":{"values":[{"set":"NS0d_vs_NR0d","x":0,"y":0},{"set":"NS4d_vs_NR4d","x":1,"y":0}]},"mark":{"type":"point","filled":true,"shape":"circle","size":170569,"fillOpacity":0.5,"stroke":"black","strokeWidth":2,"strokeOpacity":1},"encoding":{"fill":{"field":"set","type":"nominal","scale":{"domain":["NS0d_vs_NR0d","NS4d_vs_NR4d"],"range":["#FF0000","#0000FF"]},"legend":null}}},
{"data":{"values":[{"t":"92","x":-0.48,"y":-0.05},{"t":"17","x":0.41,"y":-0.05},{"t":"53","x":1.32,"y":-0.05}]},"mark":{"type":"text","fontSize":42,"color":"black"},"encoding":{"text":{"field":"t"}}},
{"data":{"values":[{"t":"NS0d_vs_NR0d","x":-0.41,"y":-1.356},{"t":"NS4d_vs_NR4d","x":1.44,"y":-1.346}]},"mark":{"type":"text","fontSize":39.5,"color":"black"},"encoding":{"text":{"field":"t"}}}
]},
{"encoding":{"x":{"field":"x","type":"quantitative","scale":{"domain":[-1,2],"range":[2036,2653],"nice":false,"zero":false},"axis":null},"y":{"field":"y","type":"quantitative","scale":{"domain":[-1,1],"range":[598.5,185.5],"nice":false,"zero":false},"axis":null}},
"layer":[
{"data":{"values":[{"set":"NS0d_vs_NS4d","x":0,"y":0},{"set":"NR0d_vs_NR4d","x":1,"y":0}]},"mark":{"type":"point","filled":true,"shape":"circle","size":170569,"fillOpacity":0.5,"stroke":"black","strokeWidth":2,"strokeOpacity":1},"encoding":{"fill":{"field":"set","type":"nominal","scale":{"domain":["NS0d_vs_NS4d","NR0d_vs_NR4d"],"range":["#FF0000","#0000FF"]},"legend":null}}},
{"data":{"values":[{"t":"119","x":-0.415,"y":-0.068},{"t":"43","x":0.45,"y":-0.068},{"t":"78","x":1.345,"y":-0.068}]},"mark":{"type":"text","fontSize":42,"color":"black"},"encoding":{"text":{"field":"t"}}},
{"data":{"values":[{"t":"NS0d_vs_NS4d","x":-0.44,"y":-1.327},{"t":"NR0d_vs_NR4d","x":1.365,"y":-1.327}]},"mark":{"type":"text","fontSize":39,"color":"black"},"encoding":{"text":{"field":"t"}}}
]},
{"encoding":{"x":{"field":"x","type":"quantitative","scale":{"domain":[-1,1],"range":[216.5,1148.5],"nice":false,"zero":false},"axis":null},"y":{"field":"y","type":"quantitative","scale":{"domain":[-1,1],"range":[1896,964],"nice":false,"zero":false},"axis":null}},
"layer":[
{"data":{"name":"arcs"},"transform":[{"window":[{"op":"row_number","as":"id"}]},{"flatten":["p"]},{"window":[{"op":"row_number","as":"o"}],"groupby":["id"]},{"lookup":"p","from":{"data":{"name":"anchors"},"key":"k","fields":["x","y"]}}],
"mark":{"type":"line","interpolate":"bundle","tension":0.9,"strokeWidth":5,"opacity":0.5},"encoding":{"detail":{"field":"id"},"order":{"field":"o"},"stroke":{"field":"r","type":"quantitative","scale":{"domain":[-0.93,-0.8,0.8,0.94],"range":["#3F51A5","#3F51A5","#F63A2E","#F63A2E"]},"legend":{"title":"Correlation","orient":"none","legendX":1293,"legendY":1460,"gradientLength":135,"gradientThickness":27,"gradientOpacity":1,"values":[0.5,0,-0.5],"labelExpr":"replace(format(datum.value,'.1f'),'−','-')","labelFontSize":23,"titleFontSize":23,"titleFontWeight":"normal","titleColor":"#222222","labelColor":"#222222","titlePadding":10,"labelOverlap":false}}}},
{"data":{"name":"links"},"transform":[{"window":[{"op":"row_number","as":"id"}]},{"flatten":["p"]},{"window":[{"op":"row_number","as":"o"}],"groupby":["id"]},{"lookup":"p","from":{"data":{"name":"anchors"},"key":"k","fields":["x","y"]}}],
"mark":{"type":"line","interpolate":"bundle","tension":0.72,"strokeWidth":7,"opacity":0.8},"encoding":{"detail":{"field":"id"},"order":{"field":"o"},"stroke":{"field":"r","type":"quantitative","scale":{"domain":[-0.93,-0.8,0.8,0.94],"range":["#3F51A5","#3F51A5","#F63A2E","#F63A2E"]},"legend":{"title":"Correlation","orient":"none","legendX":1293,"legendY":1460,"gradientLength":135,"gradientThickness":27,"gradientOpacity":1,"values":[0.5,0,-0.5],"labelExpr":"replace(format(datum.value,'.1f'),'−','-')","labelFontSize":23,"titleFontSize":23,"titleFontWeight":"normal","titleColor":"#222222","labelColor":"#222222","titlePadding":10,"labelOverlap":false}}}}
]},
{"data":{"name":"nodes"},"mark":{"type":"point","filled":true,"shape":"circle","strokeWidth":2.5,"fillOpacity":1,"strokeOpacity":1},"encoding":{
"x":{"field":"x","type":"quantitative","scale":{"domain":[-1,1],"range":[216.5,1148.5],"nice":false,"zero":false},"axis":null},"y":{"field":"y","type":"quantitative","scale":{"domain":[-1,1],"range":[1896,964],"nice":false,"zero":false},"axis":null},
"fill":{"field":"c","type":"nominal","scale":{"domain":["Alkaloids","Amino acids and derivatives","Flavonoids","Lignans and Coumarins","Lipids","Organic acids","Others","Phenolic acids","Quinones","Terpenoids"],"range":["#C4E9E1","#E8DB8F","#DCDCEC","#FBB8B2","#BDD7E8","#FDD5A8","#BEB3A5","#DFA9AF","#A3DCD0","#FDD690"]},"legend":{"title":"Class","orient":"none","legendX":1294,"legendY":818,"symbolType":"circle","symbolSize":361,"symbolStrokeColor":"#555555","symbolStrokeWidth":1.5,"labelFontSize":23.5,"titleFontSize":23,"titleFontWeight":"normal","labelColor":"#222222","titleColor":"#222222","rowPadding":1,"labelOffset":16,"labelLimit":400,"titlePadding":10}},
"stroke":{"field":"c","type":"nominal","scale":{"domain":["Alkaloids","Amino acids and derivatives","Flavonoids","Lignans and Coumarins","Lipids","Organic acids","Others","Phenolic acids","Quinones","Terpenoids"],"range":["#8FD3C4","#C9B22E","#B5B3D3","#F0706A","#6B9DC3","#F4AE60","#6E6250","#A83246","#2FA58D","#EBAB2A"]},"legend":null},
"size":{"field":"fc","type":"quantitative","scale":{"domain":[-15,-10,-5,0,5,10,15],"range":[36,289,484,676,900,1089,1369]},"legend":{"title":"Log₂FC","orient":"none","legendX":1294,"legendY":1154,"values":[-15,-10,-5,0,5,10,15],"labelExpr":"replace(format(datum.value,'d'),'−','-')","symbolType":"circle","symbolFillColor":"transparent","symbolStrokeColor":"#111111","symbolStrokeWidth":1.5,"labelFontSize":23,"titleFontSize":23,"titleFontWeight":"normal","labelColor":"#222222","titleColor":"#222222","rowPadding":2,"labelOverlap":false,"titlePadding":10,"labelOffset":15}}}},
{"encoding":{"x":{"field":"x","type":"quantitative","scale":{"domain":[-1,1],"range":[216.5,1148.5],"nice":false,"zero":false},"axis":null},"y":{"field":"y","type":"quantitative","scale":{"domain":[-1,1],"range":[1896,964],"nice":false,"zero":false},"axis":null},"text":{"field":"n"},"angle":{"field":"a","type":"quantitative","scale":null},"fill":{"field":"c","type":"nominal","scale":{"domain":["Alkaloids","Amino acids and derivatives","Flavonoids","Lignans and Coumarins","Lipids","Organic acids","Others","Phenolic acids","Quinones","Terpenoids"],"range":["#8FD3C4","#C9B22E","#B5B3D3","#F0706A","#6B9DC3","#F4AE60","#6E6250","#A83246","#2FA58D","#EBAB2A"]},"legend":null}},
"layer":[
{"data":{"name":"nodes"},"transform":[{"filter":"datum.k<35"}],"mark":{"type":"text","align":"left","baseline":"middle","dx":33,"fontSize":15}},
{"data":{"name":"nodes"},"transform":[{"filter":"datum.k>=35"}],"mark":{"type":"text","align":"right","baseline":"middle","dx":-33,"fontSize":15}},
{"data":{"values":[{"label":"Flavonoids","x":1.3788,"x2":1.6534,"y":1.1309,"y2":1.0697}]},"mark":{"type":"rect","fill":"transparent","stroke":"#D4219A","strokeWidth":2},"encoding":{"text":null,"angle":null,"fill":null,"x2":{"field":"x2"},"y2":{"field":"y2"}}},
{"data":{"values":[{"label":"Phenolic acids","x":1.3873,"x2":1.7285,"y":0.839,"y2":0.7768}]},"mark":{"type":"rect","fill":"transparent","stroke":"#5B1E8C","strokeWidth":2},"encoding":{"text":null,"angle":null,"fill":null,"x2":{"field":"x2"},"y2":{"field":"y2"}}}
]},
{"encoding":{"x":{"field":"x","type":"quantitative","scale":{"domain":[-1,1],"range":[1826.9,2572.1],"nice":false,"zero":false},"axis":null},"y":{"field":"y","type":"quantitative","scale":{"domain":[-1,1],"range":[1791.2,1046],"nice":false,"zero":false},"axis":null}},
"layer":[
{"data":{"name":"rings"},"mark":{"type":"line","stroke":"#C6C6C6","strokeWidth":3},"encoding":{"detail":{"field":"f"},"order":{"field":"o"}}},
{"data":{"name":"spokes"},"mark":{"type":"rule","stroke":"#C6C6C6","strokeWidth":3},"encoding":{"x2":{"field":"x2"},"y2":{"field":"y2"}}},
{"data":{"name":"radar"},"mark":{"type":"line","fill":"#3F8585","fillOpacity":0.5,"stroke":"#2F7F7F","strokeWidth":3},"encoding":{"order":{"field":"o"}}},
{"data":{"name":"radar"},"mark":{"type":"point","filled":true,"shape":"circle","size":200,"color":"#2F7F7F","opacity":1}},
{"data":{"name":"radarLabels"},"mark":{"type":"text","fontSize":22,"fontWeight":"bold","color":"#111111"},"encoding":{"text":{"field":"t"}}},
{"data":{"name":"radarTicks"},"mark":{"type":"text","fontSize":21,"fontWeight":"bold","color":"#111111"},"encoding":{"text":{"field":"t"}}}
]},
{"encoding":{"x":{"field":"x","type":"quantitative","scale":{"domain":[0,0.3],"range":[494.5,785.3],"nice":false,"zero":false},"axis":{"title":"RichFactor","orient":"bottom","offset":-57.4,"values":[0,0.1,0.2,0.3],"format":".1f","grid":false,"domain":false,"tickColor":"#333333","labelFontSize":22,"labelColor":"#222222","titleFontSize":24,"titleFontWeight":"bold","titleColor":"#111111","titleX":637.6,"titleY":39,"titleBaseline":"middle","labelPadding":3}},
"y":{"field":"y","type":"quantitative","scale":{"domain":[1,7],"range":[2134.7,2702],"nice":false,"zero":false},"axis":{"title":"Pathway","orient":"left","offset":-475.6,"titleX":-334,"titleY":2418,"titleFontSize":22,"titleFontWeight":"bold","titleColor":"#111111","values":[1,2,3,4,5,6,7],"labelExpr":"['Phenylpropanoid biosynthesis','Flavonoid biosynthesis','Flavone and flavonol biosynthesis','Biosynthesis of cofactors','Carbon metabolism','Tyrosine metabolism','Pantothenate and CoA biosynthesis'][datum.value-1]","grid":false,"domain":false,"tickColor":"#333333","tickSize":4,"labelFontSize":20.2,"labelColor":"#222222","labelLimit":400,"labelPadding":4}}},
"layer":[
{"data":{"values":[{"x":0,"x2":0,"y":0.4,"y2":7.6},{"x":0.05,"x2":0.05,"y":0.4,"y2":7.6},{"x":0.1,"x2":0.1,"y":0.4,"y2":7.6},{"x":0.15,"x2":0.15,"y":0.4,"y2":7.6},{"x":0.2,"x2":0.2,"y":0.4,"y2":7.6},{"x":0.25,"x2":0.25,"y":0.4,"y2":7.6},{"x":0.3,"x2":0.3,"y":0.4,"y2":7.6},{"x":-0.0195,"x2":0.3152,"y":1,"y2":1},{"x":-0.0195,"x2":0.3152,"y":2,"y2":2},{"x":-0.0195,"x2":0.3152,"y":3,"y2":3},{"x":-0.0195,"x2":0.3152,"y":4,"y2":4},{"x":-0.0195,"x2":0.3152,"y":5,"y2":5},{"x":-0.0195,"x2":0.3152,"y":6,"y2":6},{"x":-0.0195,"x2":0.3152,"y":7,"y2":7}]},"mark":{"type":"rule","stroke":"#EDEDED","strokeWidth":2},"encoding":{"x2":{"field":"x2"},"y2":{"field":"y2"}}},
{"data":{"values":[{"x":-0.0195,"x2":0.3152,"y":0.4,"y2":7.6}]},"mark":{"type":"rect","fill":"transparent","stroke":"#222222","strokeWidth":3},"encoding":{"x2":{"field":"x2"},"y2":{"field":"y2"}}},
{"data":{"values":[{"p":"Phenylpropanoid biosynthesis","x":0.25,"y":1,"g":3,"pv":0.02},{"p":"Flavonoid biosynthesis","x":0.045,"y":2,"g":2,"pv":0.06},{"p":"Flavone and flavonol biosynthesis","x":0.045,"y":3,"g":2,"pv":0.14},{"p":"Biosynthesis of cofactors","x":0.083,"y":4,"g":1,"pv":0.88},{"p":"Carbon metabolism","x":0.083,"y":5,"g":1,"pv":0.6},{"p":"Tyrosine metabolism","x":0.083,"y":6,"g":1,"pv":0.3},{"p":"Pantothenate and CoA biosynthesis","x":0.083,"y":7,"g":1,"pv":0.27}]},"mark":{"type":"point","filled":true,"shape":"circle","opacity":1},"encoding":{
"size":{"field":"g","type":"quantitative","scale":{"domain":[1,3],"range":[64,529]},"legend":{"title":"GeneNumber","orient":"none","legendX":821,"legendY":2253,"values":[1,1.5,2,2.5,3],"format":".1f","symbolType":"circle","symbolFillColor":"black","symbolStrokeColor":"black","titleFontSize":27,"titleFontWeight":"bold","titleColor":"#111111","labelFontSize":19,"labelColor":"#222222","rowPadding":0,"labelOverlap":false,"titlePadding":6}},
"fill":{"field":"pv","type":"quantitative","scale":{"domain":[0.02,0.882],"range":["#FF0000","#0000FF"]},"legend":{"title":"pvalue","orient":"none","legendX":822,"legendY":2423,"values":[0.2,0.4,0.6,0.8],"format":".1f","gradientLength":121,"gradientThickness":25,"titleFontSize":26,"titleFontWeight":"bold","titleColor":"#111111","labelFontSize":19,"labelColor":"#222222","labelOverlap":false,"titlePadding":6}}}}
]},
{"encoding":{"x":{"field":"g","type":"nominal","sort":null,"scale":{"domain":["NR4d","NS4d"],"range":[1295,1669],"paddingInner":0.34,"paddingOuter":0.339},"axis":{"title":null,"orient":"bottom","offset":-75,"labelAngle":0,"labelFontSize":42,"labelFontWeight":"bold","labelColor":"#222222","domainWidth":7,"domainColor":"black","tickWidth":5,"tickSize":26,"tickColor":"black","labelPadding":6}},
"y":{"field":"y","type":"quantitative","scale":{"domain":[0,150],"range":[2741,2185],"nice":false,"zero":false},"axis":{"title":"Concentration (g L⁻¹)","orient":"left","offset":-1295,"titleX":-120,"titleY":2460,"titleFontSize":46,"titleFontWeight":"bold","titleColor":"#222222","values":[0,50,100,150],"domainWidth":4,"domainColor":"black","grid":false,"tickWidth":5,"tickSize":26,"tickColor":"black","labelFontSize":44,"labelFontWeight":"bold","labelColor":"#222222","labelPadding":4}}},
"layer":[
{"data":{"values":[{"g":"NR4d","y":98.7},{"g":"NS4d","y":124.3}]},"mark":{"type":"bar"},"encoding":{"fill":{"field":"g","type":"nominal","scale":{"domain":["NR4d","NS4d"],"range":["#91BFFB","#8C8CFF"]},"legend":null}}},
{"data":{"values":[{"g":"NR4d","y":94,"y2":103.2},{"g":"NS4d","y":122.6,"y2":126.2}]},"mark":{"type":"rule","stroke":"black","strokeWidth":3},"encoding":{"y2":{"field":"y2"}}},
{"data":{"values":[{"g":"NR4d","y":94},{"g":"NR4d","y":103.2},{"g":"NS4d","y":122.6},{"g":"NS4d","y":126.2}]},"mark":{"type":"tick","color":"black","thickness":3,"size":52,"opacity":1}},
{"data":{"values":[{"g":"NR4d","y":112,"o":0},{"g":"NR4d","y":144,"o":1},{"g":"NS4d","y":144,"o":2},{"g":"NS4d","y":135,"o":3}]},"mark":{"type":"line","stroke":"black","strokeWidth":5},"encoding":{"order":{"field":"o"}}}
]},
{"encoding":{"x":{"field":"g","type":"nominal","sort":null,"scale":{"domain":["NR4d","NS4d"],"range":[2134,2524],"paddingInner":0.336,"paddingOuter":0.339},"axis":{"title":null,"orient":"bottom","offset":-80,"labelAngle":0,"labelFontSize":42,"labelFontWeight":"bold","labelColor":"#222222","domainWidth":7,"domainColor":"black","tickWidth":5,"tickSize":26,"tickColor":"black","labelPadding":6}},
"y":{"field":"y","type":"quantitative","scale":{"domain":[0,60],"range":[2738,2180],"nice":false,"zero":false},"axis":{"title":"Concentration (g L⁻¹)","orient":"left","offset":-2134,"titleX":-103,"titleY":2460,"titleFontSize":46,"titleFontWeight":"bold","titleColor":"#222222","values":[0,20,40,60],"domainWidth":4,"domainColor":"black","grid":false,"tickWidth":5,"tickSize":26,"tickColor":"black","labelFontSize":44,"labelFontWeight":"bold","labelColor":"#222222","labelPadding":4}}},
"layer":[
{"data":{"values":[{"g":"NR4d","y":30.6},{"g":"NS4d","y":46.4}]},"mark":{"type":"bar"},"encoding":{"fill":{"field":"g","type":"nominal","scale":{"domain":["NR4d","NS4d"],"range":["#F6157C","#FF7F00"]},"legend":null}}},
{"data":{"values":[{"g":"NR4d","y":29.8,"y2":31.5},{"g":"NS4d","y":45.2,"y2":47.6}]},"mark":{"type":"rule","stroke":"black","strokeWidth":3},"encoding":{"y2":{"field":"y2"}}},
{"data":{"values":[{"g":"NR4d","y":29.8},{"g":"NR4d","y":31.5},{"g":"NS4d","y":45.2},{"g":"NS4d","y":47.6}]},"mark":{"type":"tick","color":"black","thickness":3,"size":52,"opacity":1}},
{"data":{"values":[{"g":"NR4d","y":35,"o":0},{"g":"NR4d","y":54.7,"o":1},{"g":"NS4d","y":54.7,"o":2},{"g":"NS4d","y":51,"o":3}]},"mark":{"type":"line","stroke":"#3B3F77","strokeWidth":5},"encoding":{"order":{"field":"o"}}}
]},
{"encoding":{"x":{"field":"fx","type":"quantitative","scale":{"domain":[0,1],"range":[0,2712],"nice":false,"zero":false},"axis":null},"y":{"field":"fy","type":"quantitative","scale":{"domain":[0,1],"range":[2816,0],"nice":false,"zero":false},"axis":null},"text":{"field":"t"}},
"layer":[
{"data":{"values":[{"t":"A","fx":0.007,"fy":0.9911},{"t":"B","fx":0.4034,"fy":0.9915},{"t":"C","fx":0.7448,"fy":0.9915},{"t":"D","fx":0.0074,"fy":0.68},{"t":"E","fx":0.6516,"fy":0.68},{"t":"F","fx":0.0052,"fy":0.2692},{"t":"G","fx":0.4067,"fy":0.2692},{"t":"H","fx":0.7139,"fy":0.2692}]},"mark":{"type":"text","fontSize":42,"color":"black","baseline":"middle"}},
{"data":{"values":[{"t":"KEGG Pathway","fx":0.2389,"fy":0.2708}]},"mark":{"type":"text","fontSize":36,"fontWeight":"bold","color":"black","baseline":"middle"}},
{"data":{"values":[{"t":"Phenolic acid","fx":0.5417,"fy":0.2702}]},"mark":{"type":"text","fontSize":48,"fontWeight":"bold","color":"#111111","baseline":"middle"}},
{"data":{"values":[{"t":"Flavonoid","fx":0.8536,"fy":0.271}]},"mark":{"type":"text","fontSize":47,"fontWeight":"bold","color":"#111111","baseline":"middle"}},
{"data":{"values":[{"t":"***","fx":0.5461,"fy":0.2248}]},"mark":{"type":"text","fontSize":80,"fontWeight":"bold","color":"#111111","baseline":"middle"}},
{"data":{"values":[{"t":"****","fx":0.8584,"fy":0.2166}]},"mark":{"type":"text","fontSize":80,"fontWeight":"bold","color":"#2A2D5E","baseline":"middle"}}
]}
]}
